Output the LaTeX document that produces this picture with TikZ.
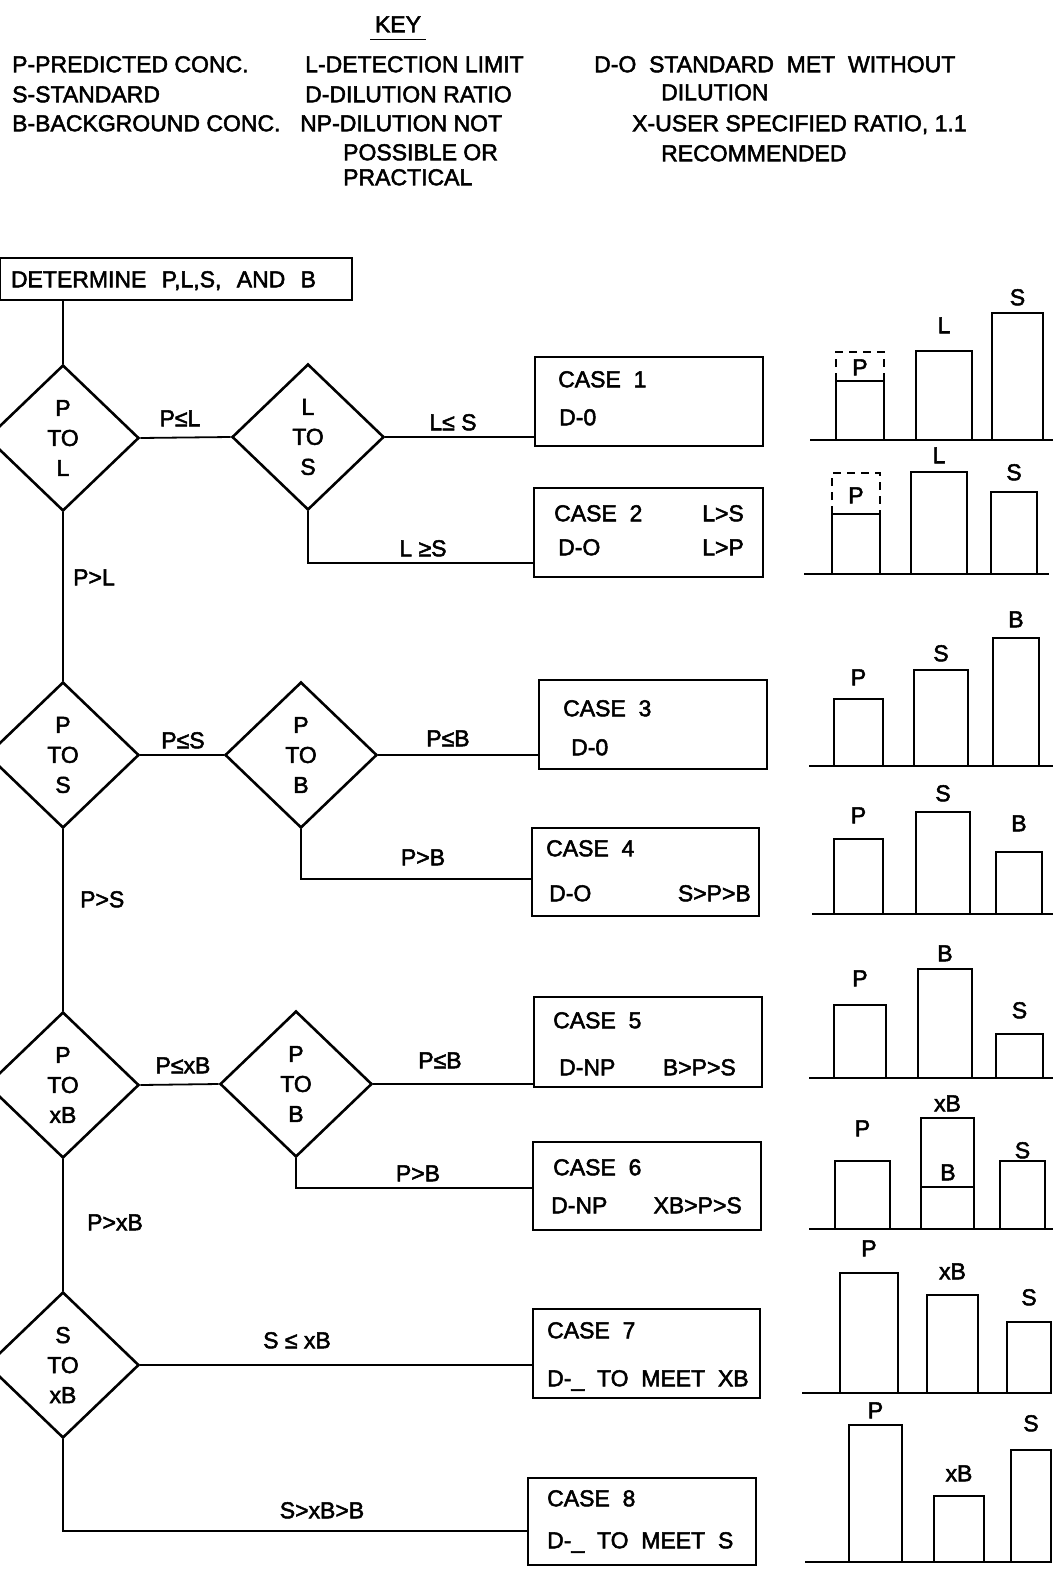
\documentclass[tikz,border=0pt]{standalone}
\usepackage{fontspec}
\setmainfont{Liberation Sans}[FakeBold=2.2]
\usetikzlibrary{shapes.geometric}
\newcommand{\lbfont}{\fontsize{23}{30}\selectfont}
\tikzset{
  flowbox/.style  = {draw,line width=2pt,inner sep=0pt,outer sep=0pt},
  decision/.style = {diamond,draw,line width=2.6pt,inner sep=0pt,
                     minimum width=152pt,minimum height=146pt,
                     align=center,font=\lbfont},
  link/.style     = {line width=1.8pt},
  txt/.style      = {inner sep=0pt,text height=16.5pt,text depth=0pt,font=\lbfont},
  barline/.style  = {line width=2pt},
  ghostbar/.style = {line width=2pt,dash pattern=on 8pt off 6pt}
}
\newcommand{\casebox}[5]{%
  \node[flowbox,minimum width={(#4-#2)*1pt},minimum height={(#5-#3)*1pt}]
    (#1) at ({(#2+#4)/2},{(#3+#5)/2}) {};
}
\newcommand{\caxis}[3]{%
  \draw[barline] (#1,#3) -- (#2,#3);
}
\newcommand{\cbar}[7]{%
  \draw[barline] (#1,#4) |- (#2,#3) -- (#2,#4);
  \node[txt] (#5) at ({(#1+#2)/2},#7) {#6};
}

\begin{document}
\begin{tikzpicture}[x=1pt,y=-1pt]
  \path[use as bounding box,fill=white] (0,0) rectangle (1056,1570);

  % key
  \node[txt] (key) at (398,24) {KEY};
  \draw[line width=1.8pt] ([shift={(-28,7)}]key.south) -- ([shift={(28,7)}]key.south);
  \node[txt,anchor=west] (kp)  at (12,64)  {P-PREDICTED CONC.};
  \node[txt,anchor=west] (ks)  at (12,94)  {S-STANDARD};
  \node[txt,anchor=west] (kb)  at (12,123) {B-BACKGROUND CONC.};
  \node[txt,anchor=west] (kl)  at (305,64)  {L-DETECTION LIMIT};
  \node[txt,anchor=west] (kd)  at (305,94)  {D-DILUTION RATIO};
  \node[txt,anchor=west] (knp) at (300,123) {NP-DILUTION NOT};
  \node[txt,anchor=west] (knp2) at (343,152) {POSSIBLE OR};
  \node[txt,anchor=west] (knp3) at (343,177) {PRACTICAL};
  \node[txt,anchor=west] (kdo)  at (594,64)  {D-O\ \ STANDARD\ \ MET\ \ WITHOUT};
  \node[txt,anchor=west] (kdo2) at (661,92)  {DILUTION};
  \node[txt,anchor=west] (kx)   at (632,123) {X-USER SPECIFIED RATIO, 1.1};
  \node[txt,anchor=west] (kx2)  at (661,153) {RECOMMENDED};

  % flow chart
  \node[flowbox,anchor=north west,text width=330pt,inner xsep=11pt,
        minimum height=42pt,align=left,font=\lbfont,text height=16.5pt,
        text depth=0pt] (start) at (0,258) {DETERMINE\ \ P,L,S,\ \ AND\ \ B};

  \node[decision] (pl)  at (63,438)  {P\\TO\\L};
  \node[decision] (ls)  at (308,437) {L\\TO\\S};
  \node[decision] (ps)  at (63,755)  {P\\TO\\S};
  \node[decision] (pb1) at (301,755) {P\\TO\\B};
  \node[decision] (pxb) at (63,1085) {P\\TO\\xB};
  \node[decision] (pb2) at (296,1084) {P\\TO\\B};
  \node[decision] (sxb) at (63,1365) {S\\TO\\xB};

  \casebox{c1}{535}{357}{763}{446}
  \casebox{c2}{534}{488}{763}{577}
  \casebox{c3}{539}{680}{767}{769}
  \casebox{c4}{532}{828}{759}{916}
  \casebox{c5}{534}{997}{762}{1087}
  \casebox{c6}{533}{1142}{761}{1230}
  \casebox{c7}{533}{1309}{760}{1398}
  \casebox{c8}{528}{1478}{756}{1565}

  \draw[link] (start.south -| pl.north) -- (pl.north);
  \draw[link] (pl.east) -- (ls.west);
  \draw[link] (ls.east) -- (ls.east -| c1.west);
  \draw[link] (ls.south) |- ([yshift=-30.5pt]c2.west);
  \draw[link] (pl.south) -- (ps.north);
  \draw[link] (ps.east) -- (pb1.west);
  \draw[link] (pb1.east) -- (pb1.east -| c3.west);
  \draw[link] (pb1.south) |- ([yshift=-7pt]c4.west);
  \draw[link] (ps.south) -- (pxb.north);
  \draw[link] (pxb.east) -- (pb2.west);
  \draw[link] (pb2.east) -- (pb2.east -| c5.west);
  \draw[link] (pb2.south) |- ([yshift=-2pt]c6.west);
  \draw[link] (pxb.south) -- (sxb.north);
  \draw[link] (sxb.east) -- (sxb.east -| c7.west);
  \draw[link] (sxb.south) |- ([yshift=-9.5pt]c8.west);

  % branch labels
  \node[txt] (lpl)  at (180,418) {P≤L};
  \node[txt] (lls)  at (453,422) {L≤ S};
  \node[txt] (lgs)  at (423,548) {L ≥S};
  \node[txt,anchor=west] (lpgl) at (73,577) {P>L};
  \node[txt] (lps)  at (183,740) {P≤S};
  \node[txt] (lpb1) at (448,738) {P≤B};
  \node[txt] (lgb1) at (423,857) {P>B};
  \node[txt,anchor=west] (lpgs) at (80,899) {P>S};
  \node[txt] (lpxb) at (183,1065) {P≤xB};
  \node[txt] (lpb2) at (440,1060) {P≤B};
  \node[txt] (lgb2) at (418,1173) {P>B};
  \node[txt,anchor=west] (lpgx) at (87,1222) {P>xB};
  \node[txt] (lsxb) at (297,1340) {S ≤ xB};
  \node[txt] (lsgx) at (322,1510) {S>xB>B};

  % case texts
  \node[txt,anchor=west] (c1a) at (558,379) {CASE\ \ 1};
  \node[txt,anchor=west] (c1b) at (559,417) {D-0};
  \node[txt,anchor=west] (c2a) at (554,513) {CASE\ \ 2};
  \node[txt,anchor=west] (c2b) at (558,547) {D-O};
  \node[txt,anchor=east] (c2c) at (744,513) {L>S};
  \node[txt,anchor=east] (c2d) at (744,547) {L>P};
  \node[txt,anchor=west] (c3a) at (563,708) {CASE\ \ 3};
  \node[txt,anchor=west] (c3b) at (571,747) {D-0};
  \node[txt,anchor=west] (c4a) at (546,848) {CASE\ \ 4};
  \node[txt,anchor=west] (c4b) at (549,893) {D-O};
  \node[txt,anchor=east] (c4c) at (751,893) {S>P>B};
  \node[txt,anchor=west] (c5a) at (553,1020) {CASE\ \ 5};
  \node[txt,anchor=west] (c5b) at (559,1067) {D-NP};
  \node[txt,anchor=east] (c5c) at (736,1067) {B>P>S};
  \node[txt,anchor=west] (c6a) at (553,1167) {CASE\ \ 6};
  \node[txt,anchor=west] (c6b) at (551,1205) {D-NP};
  \node[txt,anchor=east] (c6c) at (742,1205) {XB>P>S};
  \node[txt,anchor=west] (c7a) at (547,1330) {CASE\ \ 7};
  \node[txt,anchor=west] (c7b) at (547,1378) {D-\_\ \ TO\ \ MEET\ \ XB};
  \node[txt,anchor=west] (c8a) at (547,1498) {CASE\ \ 8};
  \node[txt,anchor=west] (c8b) at (547,1540) {D-\_\ \ TO\ \ MEET\ \ S};

  % bar charts
  \caxis{810}{1053}{440}
  \cbar{836}{884}{381}{440}{b1p}{P}{367}
  \draw[ghostbar] (836,381) |- (884,352) -- (884,381);
  \cbar{916}{972}{351}{440}{b1l}{L}{325}
  \cbar{992}{1043}{313}{440}{b1s}{S}{297}

  \caxis{804}{1049}{574}
  \cbar{832}{880}{514}{574}{b2p}{P}{495}
  \draw[ghostbar] (832,514) |- (880,473) -- (880,514);
  \cbar{911}{967}{472}{574}{b2l}{L}{455}
  \cbar{991}{1037}{492}{574}{b2s}{S}{472}

  \caxis{809}{1053}{766}
  \cbar{834}{883}{699}{766}{b3p}{P}{677}
  \cbar{914}{968}{670}{766}{b3s}{S}{653}
  \cbar{993}{1039}{638}{766}{b3b}{B}{619}

  \caxis{812}{1053}{914}
  \cbar{834}{883}{839}{914}{b4p}{P}{815}
  \cbar{916}{970}{812}{914}{b4s}{S}{793}
  \cbar{996}{1042}{852}{914}{b4b}{B}{823}

  \caxis{809}{1053}{1078}
  \cbar{834}{886}{1005}{1078}{b5p}{P}{978}
  \cbar{918}{972}{969}{1078}{b5b}{B}{953}
  \cbar{996}{1043}{1034}{1078}{b5s}{S}{1010}

  \caxis{809}{1053}{1229}
  \cbar{835}{890}{1161}{1229}{b6p}{P}{1128}
  \cbar{921}{974}{1118}{1229}{b6x}{xB}{1103}
  \draw[barline] (921,1187) -- (974,1187);
  \node[txt] (b6b) at (948,1172) {B};
  \cbar{1000}{1045}{1161}{1229}{b6s}{S}{1150}

  \caxis{802}{1052}{1393}
  \cbar{840}{898}{1273}{1393}{b7p}{P}{1248}
  \cbar{927}{978}{1295}{1393}{b7x}{xB}{1271}
  \cbar{1007}{1051}{1322}{1393}{b7s}{S}{1297}

  \caxis{805}{1052}{1562}
  \cbar{849}{902}{1425}{1562}{b8p}{P}{1410}
  \cbar{934}{984}{1496}{1562}{b8x}{xB}{1473}
  \cbar{1011}{1051}{1450}{1562}{b8s}{S}{1423}
\end{tikzpicture}
\end{document}
